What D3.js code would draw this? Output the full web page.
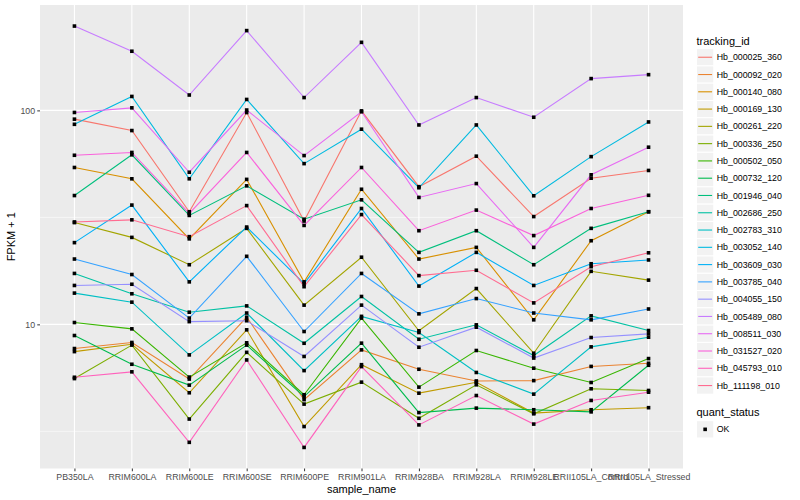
<!DOCTYPE html>
<html>
<head>
<meta charset="utf-8">
<script src="https://cdn.jsdelivr.net/npm/d3@7"></script>
<style>
  body { margin: 0; background: #fff; }
  text { font-family: "Liberation Sans", Arial, sans-serif; }
</style>
</head>
<body>
<svg id="chart" width="800" height="500"></svg>
<script>
// categories on the x axis
var sampleNames = ["PB350LA", "RRIM600LA", "RRIM600LE", "RRIM600SE", "RRIM600PE", "RRIM901LA",
                   "RRIM928BA", "RRIM928LA", "RRIM928LE", "RRII105LA_Control", "RRII105LA_Stressed"];

var trackingIds = ["Hb_000025_360", "Hb_000092_020", "Hb_000140_080", "Hb_000169_130", "Hb_000261_220",
                   "Hb_000336_250", "Hb_000502_050", "Hb_000732_120", "Hb_001946_040", "Hb_002686_250",
                   "Hb_002783_310", "Hb_003052_140", "Hb_003609_030", "Hb_003785_040", "Hb_004055_150",
                   "Hb_005489_080", "Hb_008511_030", "Hb_031527_020", "Hb_045793_010", "Hb_111198_010"];

// FPKM + 1, one value per sample
var hb_000025_360 = [91.0, 80.5, 33.6, 97.7, 30.4, 99.5, 44.0, 61.1, 31.9, 48.2, 52.4];
var hb_000092_020 = [7.71, 8.23, 5.55, 10.8, 4.45, 7.6, 6.17, 5.44, 5.46, 6.36, 6.58];
var hb_000140_080 = [54.1, 47.9, 25.1, 47.6, 15.8, 42.8, 20.2, 22.9, 10.5, 24.6, 33.6];
var hb_000169_130 = [7.46, 8.07, 4.79, 9.43, 3.33, 6.48, 4.77, 5.36, 3.85, 3.99, 4.08];
var hb_000261_220 = [29.9, 25.5, 19.0, 28.1, 12.3, 20.6, 9.33, 14.7, 7.33, 17.7, 16.1];
var hb_000336_250 = [5.58, 8.0, 3.61, 7.4, 4.24, 5.37, 3.64, 5.22, 3.82, 5.0, 4.91];
var hb_000502_050 = [10.2, 9.53, 5.67, 8.2, 4.69, 10.7, 5.09, 7.55, 6.24, 5.35, 6.92];
var hb_000732_120 = [8.87, 6.51, 5.2, 8.0, 4.6, 8.17, 3.87, 4.06, 3.99, 3.9, 6.44];
var hb_001946_040 = [40.0, 62.0, 32.3, 44.4, 31.0, 38.2, 21.7, 27.4, 19.0, 28.1, 33.6];
var hb_002686_250 = [17.3, 13.9, 11.4, 12.2, 8.16, 13.5, 8.52, 9.95, 7.15, 10.96, 9.36];
var hb_002783_310 = [14.0, 12.7, 7.2, 11.3, 6.08, 10.9, 9.16, 5.96, 4.72, 7.85, 8.71];
var hb_003052_140 = [86.1, 116.2, 47.9, 112.5, 56.4, 81.7, 43.5, 85.5, 39.9, 60.8, 88.3];
var hb_003609_030 = [24.1, 36.1, 15.8, 28.5, 15.5, 34.8, 15.1, 21.7, 15.2, 19.2, 20.0];
var hb_003785_040 = [20.2, 17.1, 10.7, 20.8, 9.26, 17.3, 11.2, 13.2, 11.3, 10.5, 11.8];
var hb_004055_150 = [15.2, 15.4, 10.3, 10.4, 7.08, 12.3, 7.82, 9.7, 6.96, 8.68, 9.03];
var hb_005489_080 = [247.8, 189, 118, 236, 114.8, 208, 85.5, 114.8, 92.9, 140.8, 146.9];
var hb_008511_030 = [97.8, 102.8, 51.4, 100.4, 61.5, 98.5, 39.2, 45.5, 22.9, 50.0, 67.3];
var hb_031527_020 = [61.7, 63.6, 33.0, 63.6, 29.0, 54.1, 27.4, 34.2, 26.0, 34.8, 40.1];
var hb_045793_010 = [5.66, 6.0, 2.81, 6.82, 2.66, 6.35, 3.39, 4.65, 3.42, 4.41, 4.82];
var hb_111198_010 = [30.1, 30.8, 25.7, 35.9, 15.0, 32.6, 16.9, 17.9, 12.6, 18.6, 21.6];

var yTicks = [10, 100];
var yMinor = [Math.sqrt(10), Math.sqrt(1000)];
var quantStatus = ["OK"];

// ggplot default hue palette for 20 levels
var palette = ["#F8766D", "#EA8331", "#D89000", "#C09B00", "#A3A500", "#7CAE00", "#39B600", "#00BB4E",
               "#00BF7D", "#00C1A3", "#00BFC4", "#00BAE0", "#00B0F6", "#35A2FF", "#9590FF", "#C77CFF",
               "#E76BF3", "#FA62DB", "#FF62BC", "#FF6C91"];

var allValues = [hb_000025_360, hb_000092_020, hb_000140_080, hb_000169_130, hb_000261_220,
                 hb_000336_250, hb_000502_050, hb_000732_120, hb_001946_040, hb_002686_250,
                 hb_002783_310, hb_003052_140, hb_003609_030, hb_003785_040, hb_004055_150,
                 hb_005489_080, hb_008511_030, hb_031527_020, hb_045793_010, hb_111198_010];

function draw_chart() {
    "use strict";
    var series = trackingIds.map(function(id, i) {
        return {id: id, values: allValues[i].map(function(v, j) { return {sample: sampleNames[j], v: v}; })};
    });

    var pLeft = 40, pRight = 683, pTop = 5, pBottom = 468.5;

    var svg = d3.select("#chart");
    svg.append("rect").attr("width", 800).attr("height", 500).attr("fill", "white");

    var x = d3.scalePoint().domain(sampleNames).range([pLeft, pRight]).padding(0.6);

    // log scale with ggplot-like 5% expansion
    var lo = Math.log10(d3.min(allValues, function(a) { return d3.min(a); }));
    var hi = Math.log10(d3.max(allValues, function(a) { return d3.max(a); }));
    var pad = (hi - lo) * 0.05;
    var y = d3.scaleLog().domain([Math.pow(10, lo - pad), Math.pow(10, hi + pad)]).range([pBottom, pTop]);

    var color = d3.scaleOrdinal().domain(trackingIds).range(palette);

    // panel
    svg.append("rect")
        .attr("x", pLeft).attr("y", pTop)
        .attr("width", pRight - pLeft).attr("height", pBottom - pTop)
        .attr("fill", "#EBEBEB");

    var grid = svg.append("g");
    grid.selectAll(".minor").data(yMinor).enter().append("line")
        .attr("x1", pLeft).attr("x2", pRight)
        .attr("y1", function(d) { return y(d); }).attr("y2", function(d) { return y(d); })
        .attr("stroke", "white").attr("stroke-width", 0.55);
    grid.selectAll(".major").data(yTicks).enter().append("line")
        .attr("x1", pLeft).attr("x2", pRight)
        .attr("y1", function(d) { return y(d); }).attr("y2", function(d) { return y(d); })
        .attr("stroke", "white").attr("stroke-width", 1.1);
    grid.selectAll(".vx").data(sampleNames).enter().append("line")
        .attr("x1", function(d) { return x(d); }).attr("x2", function(d) { return x(d); })
        .attr("y1", pTop).attr("y2", pBottom)
        .attr("stroke", "white").attr("stroke-width", 1.1);

    // lines
    var line = d3.line()
        .x(function(d) { return x(d.sample); })
        .y(function(d) { return y(d.v); });

    svg.append("g").selectAll("path")
        .data(series)
        .enter()
        .append("path")
        .attr("d", function(d) { return line(d.values); })
        .attr("fill", "none")
        .attr("stroke", function(d) { return color(d.id); })
        .attr("stroke-width", 1.1);

    // points
    var pts = [];
    series.forEach(function(s) { s.values.forEach(function(p) { pts.push(p); }); });
    var ps = 3.6;
    svg.append("g").selectAll("rect")
        .data(pts)
        .enter()
        .append("rect")
        .attr("x", function(d) { return x(d.sample) - ps / 2; })
        .attr("y", function(d) { return y(d.v) - ps / 2; })
        .attr("width", ps).attr("height", ps)
        .attr("fill", "black");

    // axes
    var xAxis = d3.axisBottom(x).tickSize(2.75).tickPadding(2.5);
    var gx = svg.append("g").attr("transform", "translate(0," + pBottom + ")").call(xAxis);
    gx.select(".domain").remove();
    gx.selectAll("line").attr("stroke", "#333333").attr("stroke-width", 1);
    gx.selectAll("text").attr("fill", "#4D4D4D").style("font-size", "8.8px")
        .style("font-family", "'Liberation Sans', Arial, sans-serif");

    var yAxis = d3.axisLeft(y).tickValues(yTicks).tickFormat(d3.format("d")).tickSize(2.75).tickPadding(2.2);
    var gy = svg.append("g").attr("transform", "translate(" + pLeft + ",0)").call(yAxis);
    gy.select(".domain").remove();
    gy.selectAll("line").attr("stroke", "#333333").attr("stroke-width", 1);
    gy.selectAll("text").attr("fill", "#4D4D4D").style("font-size", "8.8px")
        .style("font-family", "'Liberation Sans', Arial, sans-serif");

    svg.append("text")
        .attr("x", (pLeft + pRight) / 2).attr("y", 493)
        .attr("text-anchor", "middle")
        .style("font-size", "11px")
        .text("sample_name");

    svg.append("text")
        .attr("transform", "translate(15," + ((pTop + pBottom) / 2) + ") rotate(-90)")
        .attr("text-anchor", "middle")
        .style("font-size", "11px")
        .text("FPKM + 1");

    // legend: tracking_id
    var lx = 696.5, ly = 48.6, kh = 17.28;
    svg.append("text").attr("x", lx).attr("y", 44.5).style("font-size", "11px").text("tracking_id");

    var keys = svg.append("g").selectAll("g")
        .data(trackingIds)
        .enter()
        .append("g")
        .attr("transform", function(d, i) { return "translate(" + lx + "," + (ly + i * kh) + ")"; });
    keys.append("rect").attr("width", kh).attr("height", kh)
        .attr("fill", "#F2F2F2").attr("stroke", "white").attr("stroke-width", 1);
    keys.append("line").attr("x1", 1.7).attr("x2", kh - 1.7)
        .attr("y1", kh / 2).attr("y2", kh / 2)
        .attr("stroke", function(d) { return color(d); }).attr("stroke-width", 1.1);
    keys.append("text").attr("x", kh + 3).attr("y", kh / 2 + 3.1)
        .style("font-size", "8.8px").attr("fill", "black")
        .text(function(d) { return d; });

    // legend: quant_status
    svg.append("text").attr("x", lx).attr("y", 416.3).style("font-size", "11px").text("quant_status");
    var qk = svg.append("g").selectAll("g")
        .data(quantStatus)
        .enter()
        .append("g")
        .attr("transform", function(d, i) { return "translate(" + lx + "," + (420.7 + i * kh) + ")"; });
    qk.append("rect").attr("width", kh).attr("height", kh)
        .attr("fill", "#F2F2F2").attr("stroke", "white").attr("stroke-width", 1);
    qk.append("rect").attr("x", kh / 2 - ps / 2).attr("y", kh / 2 - ps / 2)
        .attr("width", ps).attr("height", ps).attr("fill", "black");
    qk.append("text").attr("x", kh + 3).attr("y", kh / 2 + 3.1)
        .style("font-size", "8.8px").text(function(d) { return d; });
}

draw_chart();
</script>
</body>
</html>
